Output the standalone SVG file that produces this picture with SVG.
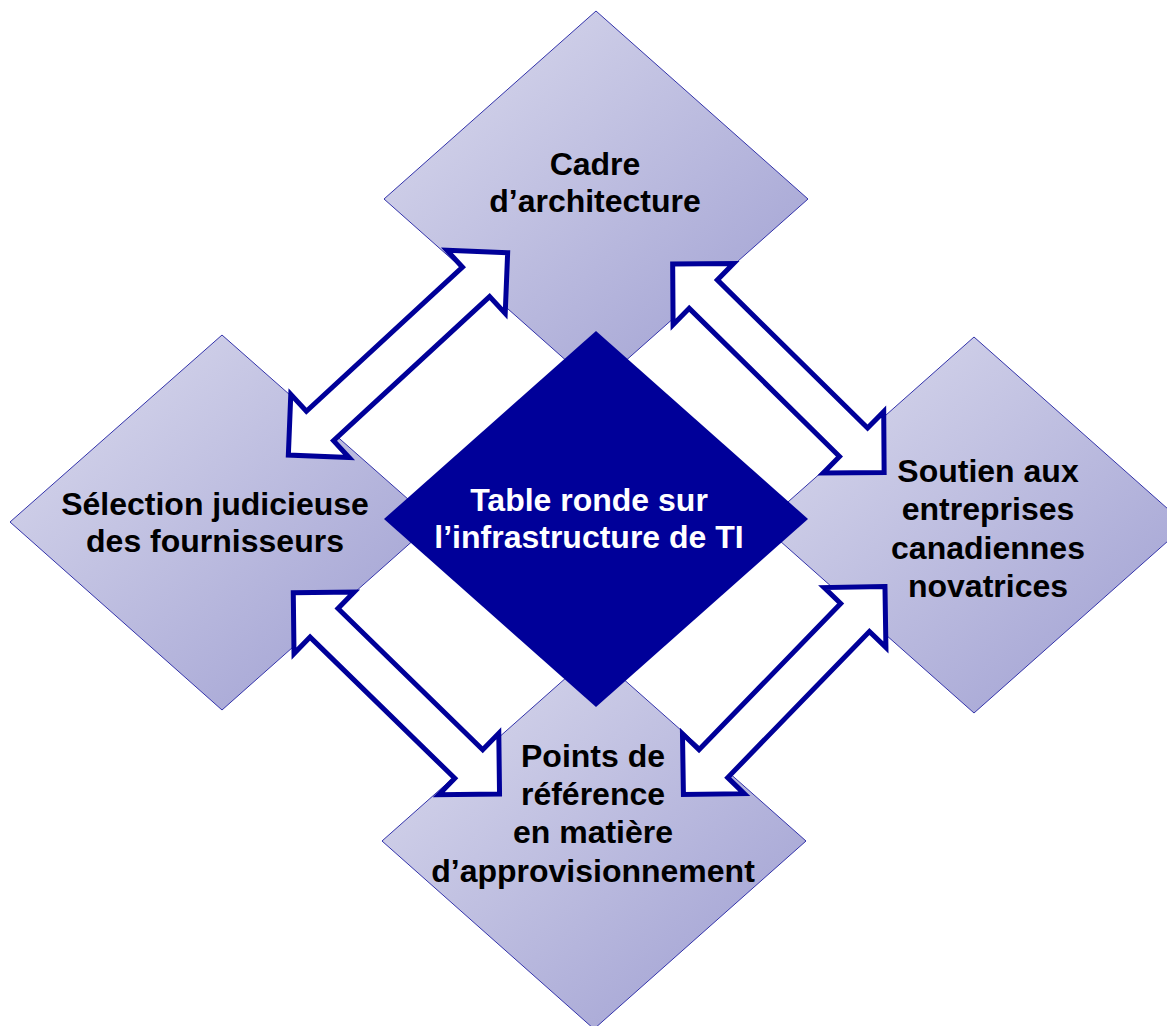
<svg xmlns="http://www.w3.org/2000/svg" width="1167" height="1026" viewBox="0 0 1167 1026">
<defs>
<linearGradient id="lav" x1="0" y1="0" x2="1" y2="1">
<stop offset="0" stop-color="#dcdcee"/>
<stop offset="1" stop-color="#9d9dd1"/>
</linearGradient>
</defs>
<style>
.outer{fill:url(#lav);stroke:#3333aa;stroke-width:1}
.center{fill:#000099}
.arrow{fill:#ffffff;stroke:#000099;stroke-width:5;stroke-linejoin:miter}
text{font-family:"Liberation Sans",Arial,sans-serif;font-weight:bold;font-size:32px;text-anchor:middle}
.dark{fill:#000000}
.light{fill:#ffffff}
</style>
<rect width="1167" height="1026" fill="#ffffff"/>
<g id="node-cadre">
<polygon class="outer" points="596,11 808,199 596,387 384,199"/>
</g>
<g id="node-selection">
<polygon class="outer" points="222,335 434,522 222,710 10,522"/>
</g>
<g id="node-soutien">
<polygon class="outer" points="974,337 1186,525 974,713 762,525"/>
</g>
<g id="node-points">
<polygon class="outer" points="594,653 806,841 594,1029 382,841"/>
</g>
<g id="node-table">
<polygon class="center" points="596,331 808,519 596,707 384,519"/>
</g>
<g id="connectors">
<path class="arrow" transform="translate(398,353.9) rotate(-42.7)" d="M149.2,0 L106.2,-43 L106.2,-20 L-106.2,-20 L-106.2,-43 L-149.2,0 L-106.2,43 L-106.2,20 L106.2,20 L106.2,43 Z"/>
<path class="arrow" transform="translate(778.4,368.2) rotate(44.6)" d="M148.5,0 L105.5,-43 L105.5,-20 L-105.5,-20 L-105.5,-43 L-148.5,0 L-105.5,43 L-105.5,20 L105.5,20 L105.5,43 Z"/>
<path class="arrow" transform="translate(396.4,693.4) rotate(44.3)" d="M144.1,0 L101.1,-43 L101.1,-20 L-101.1,-20 L-101.1,-43 L-144.1,0 L-101.1,43 L-101.1,20 L101.1,20 L101.1,43 Z"/>
<path class="arrow" transform="translate(784.2,690.6) rotate(-45.9)" d="M144.8,0 L101.8,-43 L101.8,-20 L-101.8,-20 L-101.8,-43 L-144.8,0 L-101.8,43 L-101.8,20 L101.8,20 L101.8,43 Z"/>
</g>
<g id="labels">
<text class="dark" x="595" y="175">Cadre</text>
<text class="dark" x="595" y="212">d’architecture</text>
<text class="dark" x="215" y="515">Sélection judicieuse</text>
<text class="dark" x="215" y="552">des fournisseurs</text>
<text class="dark" x="988" y="482">Soutien aux</text>
<text class="dark" x="988" y="520">entreprises</text>
<text class="dark" x="988" y="559">canadiennes</text>
<text class="dark" x="988" y="597">novatrices</text>
<text class="dark" x="593" y="767">Points de</text>
<text class="dark" x="593" y="805">référence</text>
<text class="dark" x="593" y="843">en matière</text>
<text class="dark" x="593" y="882">d’approvisionnement</text>
<text class="light" x="589" y="511">Table ronde sur</text>
<text class="light" x="589" y="548">l’infrastructure de TI</text>
</g>
</svg>
